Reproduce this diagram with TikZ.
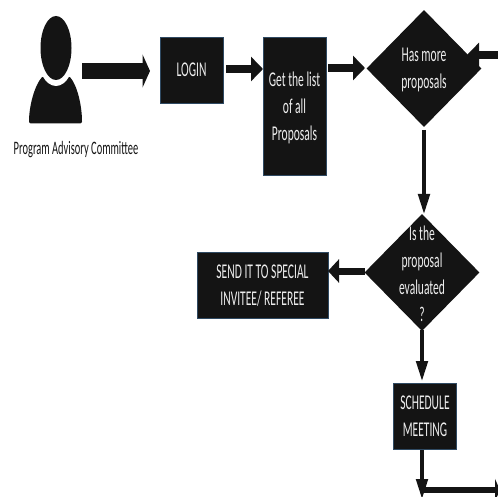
\documentclass[tikz,border=0pt]{standalone}
\usepackage{fontspec}
\setmainfont{Carlito}
\newfontfamily\lblfont[FakeStretch=0.55]{Carlito}
\usetikzlibrary{arrows.meta,shapes.geometric}
\definecolor{ink}{HTML}{141414}
\definecolor{edge}{HTML}{2F4A63}
\definecolor{paper}{HTML}{EDEDED}
\tikzset{
  txt/.style={text=paper,align=center,inner sep=0pt,font=\lblfont\fontsize{21}{27}\selectfont},
  boxnode/.style={draw=edge,line width=.7pt,fill=ink,inner sep=0pt,minimum width=#1},
  boxnode/.default=63pt,
  decide/.style={diamond,fill=ink,inner sep=0pt,minimum width=115pt,minimum height=117pt},
  blockw/.style={draw=ink,line width=#1},
  bigarrow/.style={blockw=16pt,-{Triangle[length=7.5pt,width=33pt]}},
  midarrow/.style={blockw=8pt,-{Triangle[length=12pt,width=24pt]}},
  leftarrow/.style={blockw=7pt,-{Triangle[length=11pt,width=23pt]}},
  downarrow/.style={blockw=4.5pt,-{Triangle[length=21pt,width=11pt]}},
  flatarrow/.style={blockw=6pt,-{Triangle[length=5pt,width=22pt]}},
}
\begin{document}
\begin{tikzpicture}[x=1pt,y=-1pt]
\useasboundingbox (0,0) rectangle (498,497);
% person
\fill[ink,rounded corners=2pt] (29,123.5) .. controls (29,105) and (35,85) .. (43,76) -- (69,76)
  .. controls (77,85) and (82,105) .. (82,123.5) -- cycle;
\fill[white] (56,50) ellipse [x radius=19.5pt,y radius=36pt];
\fill[ink] (56,48) ellipse [x radius=15.5pt,y radius=32pt];
\node[inner sep=0pt,text=ink,font=\lblfont\fontsize{19}{22}\selectfont] (pac) at (76,150) {Program Advisory Committee};
% nodes
\node[boxnode,minimum height=66pt] (login) at (191.5,70) {};
\node[boxnode,minimum height=138pt] (list) at (294.5,106) {};
\node[decide] (more) at (424,68.5) {};
\node[decide] (eval) at (422,272.5) {};
\node[boxnode=131pt,minimum height=66pt] (send) at (262.5,285) {};
\node[boxnode,minimum height=66pt] (sched) at (425,416) {};
% labels
\node[txt] (tlogin) at (191.5,70) {LOGIN};
\node[txt] (tlist) at (294.5,107.5) {Get the list\\of all\\Proposals};
\node[txt] (tmore) at (424,69.5) {Has more\\proposals};
\node[txt] (teval) at (422,273.5) {Is the\\proposal\\evaluated\\?};
\node[txt] (tsend) at (262.5,286) {SEND IT TO SPECIAL\\INVITEE/ REFEREE};
\node[txt] (tsched) at (425,416.5) {SCHEDULE\\MEETING};
% connector ends
\coordinate (personR) at (82,71);
\coordinate (loginL) at (150,71);
\coordinate (loginR) at (226,69);
\coordinate (listL) at (263,69);
\coordinate (listR) at (328,68);
\coordinate (moreL) at (365,68);
\coordinate (rightin) at (498,55);
\coordinate (morein) at (467,55);
\coordinate (moreB) at (424,130);
\coordinate (evalT) at (424,215);
\coordinate (evalL) at (365,271);
\coordinate (sendR) at (328,271);
\coordinate (evalB) at (422,330);
\coordinate (schedT) at (422,382);
\coordinate (schedB) at (422,450);
\coordinate (bottomend) at (422,500);
\coordinate (turn) at (424,490);
\coordinate (rightout) at (500,490);
% connectors
\draw[bigarrow] (personR) -- (loginL);
\draw[midarrow] (loginR) -- (listL);
\draw[midarrow] (listR) -- (moreL);
\draw[midarrow] (rightin) -- (morein);
\draw[downarrow] (moreB) -- (evalT);
\draw[leftarrow] (evalL) -- (sendR);
\draw[downarrow] (evalB) -- (schedT);
\draw[downarrow] (schedB) -- (bottomend);
\draw[flatarrow] (turn) -- (rightout);
\end{tikzpicture}
\end{document}
